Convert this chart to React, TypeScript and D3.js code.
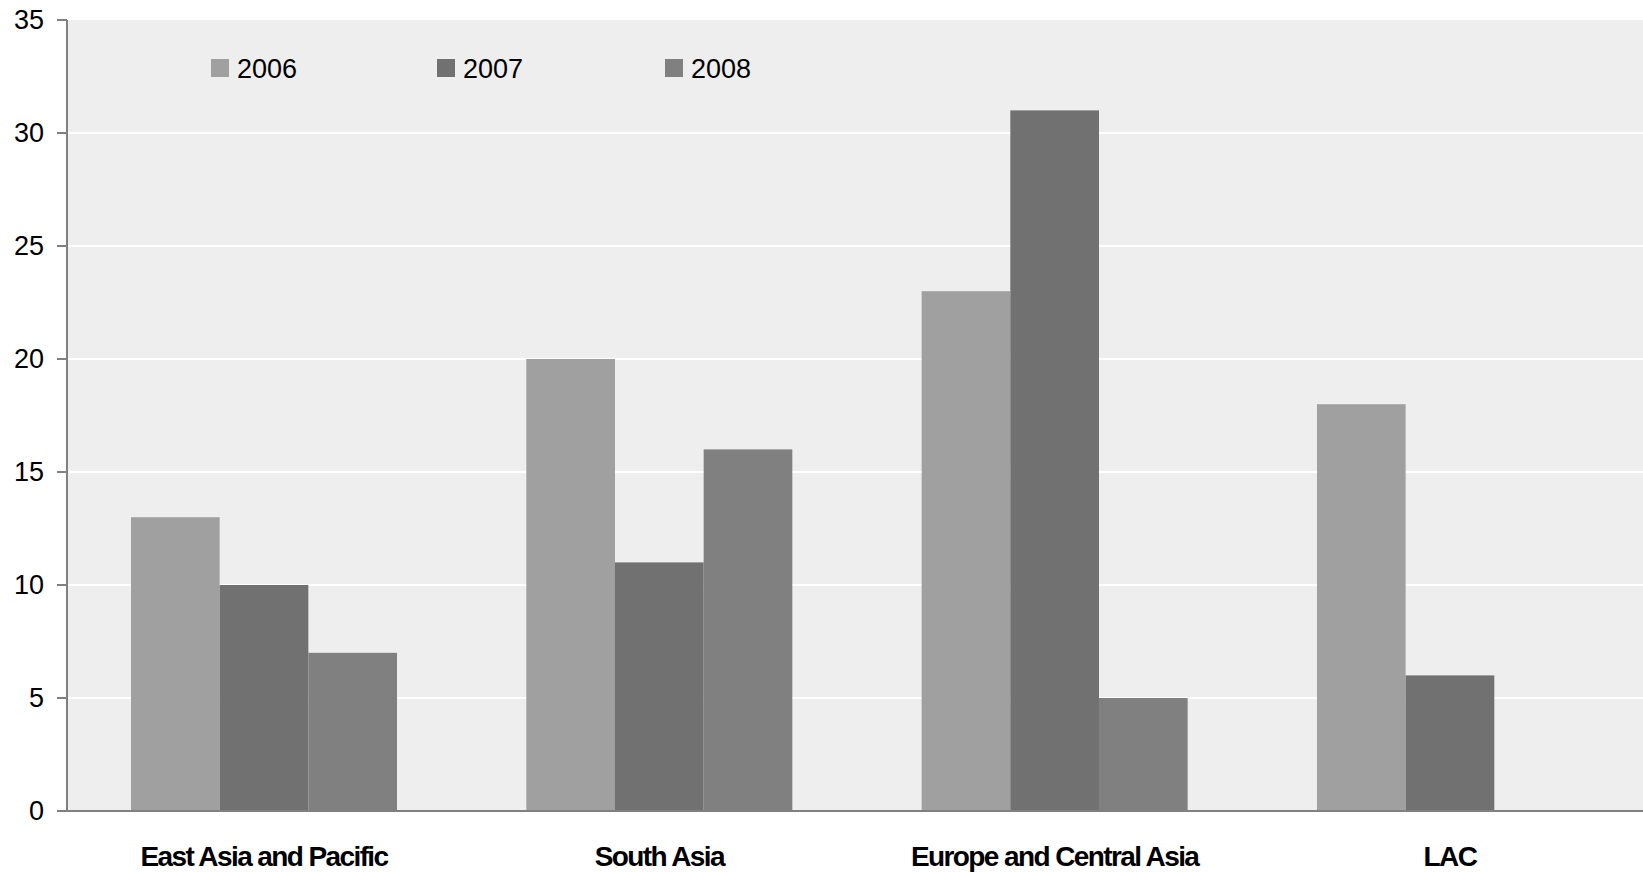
import React from "react";
import * as d3 from "d3";

const categories = ["East Asia and Pacific", "South Asia", "Europe and Central Asia", "LAC"];
const seriesNames = ["2006", "2007", "2008"];
const values2006 = [13, 20, 23, 18];
const values2007 = [10, 11, 31, 6];
const values2008 = [7, 16, 5, null];
const yTicks = [0, 5, 10, 15, 20, 25, 30, 35];
const colors = ["#a0a0a0", "#717171", "#808080"];

const W = 1643;
const H = 872;
const margin = { left: 67, right: 0, top: 20, bottom: 61 };
const FONT = "'Liberation Sans', Arial, Helvetica, sans-serif";

export default function App() {
  const series = [values2006, values2007, values2008];
  const innerBottom = H - margin.bottom;
  const x0 = d3
    .scaleBand<string>()
    .domain(categories)
    .range([margin.left, 1648.3])
    .paddingInner(0)
    .paddingOuter(0);
  const x1 = d3
    .scaleBand<string>()
    .domain(seriesNames)
    .range([64, 330])
    .padding(0);
  const y = d3.scaleLinear().domain([0, 35]).range([innerBottom, margin.top]);

  const legendX = [211, 437, 665];

  return (
    <svg
      width={W}
      height={H}
      style={{ position: "absolute", left: 0, top: 0, background: "#ffffff" }}
      fontFamily={FONT}
    >
      <rect
        x={margin.left}
        y={margin.top}
        width={W - margin.left - margin.right}
        height={innerBottom - margin.top}
        fill="#eeeeee"
      />
      {yTicks.slice(1, -1).map((t) => (
        <line
          key={"g" + t}
          x1={margin.left}
          x2={W - margin.right}
          y1={y(t)}
          y2={y(t)}
          stroke="#ffffff"
          strokeWidth={2}
        />
      ))}
      {categories.map((c, ci) =>
        seriesNames.map((s, si) => {
          const v = series[si][ci];
          if (v == null) return null;
          return (
            <rect
              key={c + s}
              x={(x0(c) as number) + (x1(s) as number)}
              y={y(v)}
              width={x1.bandwidth()}
              height={innerBottom - y(v)}
              fill={colors[si]}
            />
          );
        })
      )}
      <line x1={margin.left} x2={margin.left} y1={margin.top} y2={innerBottom} stroke="#808080" strokeWidth={2} />
      <line x1={margin.left - 10} x2={W} y1={innerBottom} y2={innerBottom} stroke="#808080" strokeWidth={2} />
      {yTicks.map((t) => (
        <g key={"t" + t}>
          <line x1={margin.left - 10} x2={margin.left} y1={y(t)} y2={y(t)} stroke="#808080" strokeWidth={2} />
          <text
            x={44}
            y={y(t)}
            textAnchor="end"
            dominantBaseline="central"
            fontSize={27}
            fill="#000"
          >
            {t}
          </text>
        </g>
      ))}
      {categories.map((c) => (
        <text
          key={"l" + c}
          x={(x0(c) as number) + 197}
          y={866}
          textAnchor="middle"
          fontSize={28}
          fontWeight="bold"
          letterSpacing={-1.6}
          fill="#000"
        >
          {c}
        </text>
      ))}
      {seriesNames.map((s, i) => (
        <g key={"lg" + s}>
          <rect x={legendX[i]} y={59} width={18} height={18} fill={colors[i]} />
          <text x={legendX[i] + 26} y={69} dominantBaseline="central" fontSize={27} fill="#000">
            {s}
          </text>
        </g>
      ))}
    </svg>
  );
}
